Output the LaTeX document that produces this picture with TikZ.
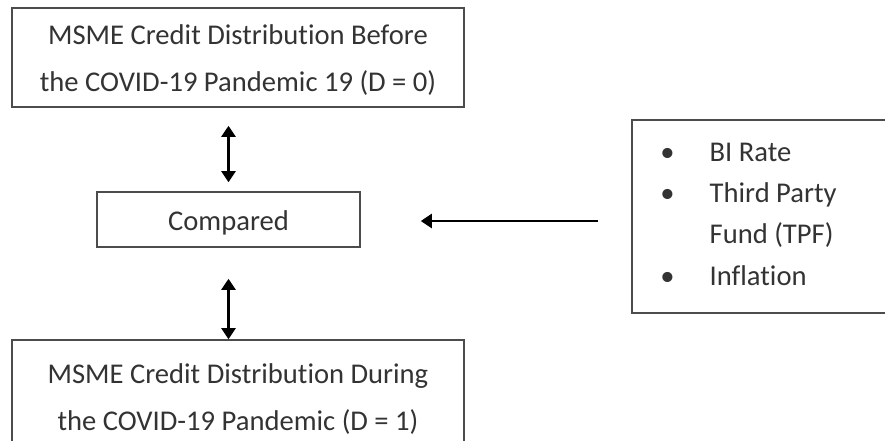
\documentclass[tikz,border=0pt]{standalone}
\usepackage{fontspec}
\setmainfont{Carlito}[Ligatures=NoCommon]
\usetikzlibrary{arrows.meta}

\begin{document}
\begin{tikzpicture}[x=0.5pt,y=-0.5pt,
    >={Triangle[width=7pt,length=5.5pt]},
    box/.style={draw=black!70,line width=0.8pt,inner sep=0pt},
    caption/.style={text=black!80,align=center,inner sep=0pt,font=\fontsize{14.3}{23.5}\selectfont},
    link/.style={line width=1.2pt,black}]
  \useasboundingbox (0,0) rectangle (885,440);
      \draw
        (238,57.5) node[box,minimum width=226pt,minimum height=49.5pt] (before){}
        (228.5,219.5) node[box,minimum width=131.5pt,minimum height=27.5pt] (compared){}
        (238,391) node[box,minimum width=226pt,minimum height=51pt] (during){}
        (762,216.5) node[box,minimum width=130pt,minimum height=96.5pt] (factors){};
      \node[caption] (before text) at (238,60.5) {MSME Credit Distribution Before\\the COVID-19 Pandemic 19 (D = 0)};
      \node[caption] (compared text) at (228.5,222.5) {Compared};
      \node[caption] (during text) at (238,399) {MSME Credit Distribution During\\the COVID-19 Pandemic (D = 1)};
      \node[caption,anchor=west,font=\fontsize{14.3}{20.65}\selectfont] (factors text) at (660,215)
        {\begin{tabular}{@{}l@{\hspace{17.5pt}}l@{}}
           • & BI Rate\\
           • & Third Party\\
             & Fund (TPF)\\
           • & Inflation
         \end{tabular}};
      \begin{scope}[link]
        \draw[<->,shorten <=9pt,shorten >=4.5pt] (compared.north |- before.south) to (compared.north);
        \draw[<->,shorten <=15.5pt] (compared.south) to (compared.south |- during.north);
        \draw[->,shorten <=16.5pt,shorten >=30pt] (factors.west |- 0,221) to (compared.east |- 0,221);
      \end{scope}

    \end{tikzpicture}
\end{document}
